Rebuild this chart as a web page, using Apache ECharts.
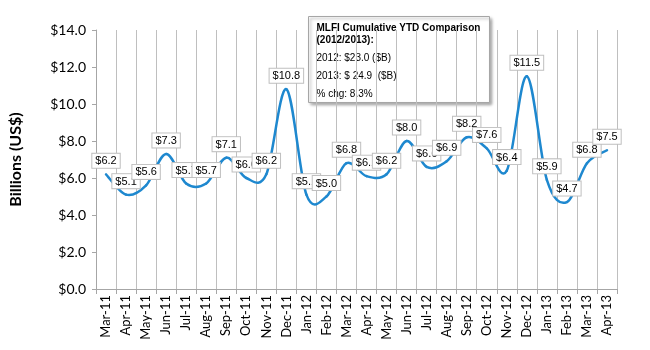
<!DOCTYPE html>
<html><head><meta charset="utf-8">
<script src="https://cdn.jsdelivr.net/npm/echarts@6/dist/echarts.min.js"></script>
<style>html,body{margin:0;padding:0;background:#fff}#c{width:650px;height:350px}</style>
</head><body><div id="c"></div>
<script>
const categories = ["Mar-11","Apr-11","May-11","Jun-11","Jul-11","Aug-11","Sep-11","Oct-11","Nov-11","Dec-11","Jan-12","Feb-12","Mar-12","Apr-12","May-12","Jun-12","Jul-12","Aug-12","Sep-12","Oct-12","Nov-12","Dec-12","Jan-13","Feb-13","Mar-13","Apr-13"];
const values = [6.2,5.1,5.6,7.3,5.7,5.7,7.1,6.0,6.2,10.8,5.1,5.0,6.8,6.1,6.2,8.0,6.6,6.9,8.2,7.6,6.4,11.5,5.9,4.7,6.8,7.5];
const yTicks = {min:0, max:14, interval:2};
const noteLines = ["MLFI Cumulative YTD Comparison","(2012/2013):","2012: $23.0 ($B)","2013: $ 24.9  ($B)","% chg: 8.3%"];

const chart = echarts.init(document.getElementById('c'), null, {renderer:'canvas'});
const axisFont = 'Lato, "Open Sans", sans-serif';
const lblFont = '"Liberation Sans", Arial, sans-serif';
const n = values.length;

function renderSegment(params, api) {
  const i = params.dataIndexInside;
  if (i >= n - 1) return null;
  const pt = k => api.coord([Math.max(0, Math.min(n - 1, k)), values[Math.max(0, Math.min(n - 1, k))]]);
  const p0 = pt(i - 1), p1 = pt(i), p2 = pt(i + 1), p3 = pt(i + 2);
  const t = 1 / 6;
  return {
    type: 'bezierCurve',
    shape: {
      x1: p1[0], y1: p1[1], x2: p2[0], y2: p2[1],
      cpx1: p1[0] + (p2[0] - p0[0]) * t, cpy1: p1[1] + (p2[1] - p0[1]) * t,
      cpx2: p2[0] - (p3[0] - p1[0]) * t, cpy2: p2[1] - (p3[1] - p1[1]) * t
    },
    style: { stroke: '#1E88CF', lineWidth: 2.5, fill: null, lineCap: 'round' }
  };
}

chart.setOption({
  animation:false,
  grid:{left:92,right:33,top:30,bottom:61},
  xAxis:{
    type:'category', data:categories, boundaryGap:true,
    axisLine:{lineStyle:{color:'#A6A6A6'}},
    axisTick:{show:true,alignWithLabel:false,length:5,lineStyle:{color:'#A6A6A6'}},
    splitLine:{show:true,lineStyle:{color:'#BFBFBF',width:1}},
    axisLabel:{rotate:90,interval:0,color:'#000',fontSize:13,fontFamily:axisFont,margin:6}
  },
  yAxis:{
    type:'value', min:yTicks.min, max:yTicks.max, interval:yTicks.interval,
    name:'Billions (US$)', nameLocation:'middle', nameGap:72,
    nameTextStyle:{fontSize:16,fontWeight:'bold',color:'#000',fontFamily:axisFont},
    axisLine:{show:true,lineStyle:{color:'#A6A6A6'}},
    axisTick:{show:true,length:4,lineStyle:{color:'#A6A6A6'}},
    splitLine:{show:false},
    axisLabel:{color:'#000',fontSize:14,fontFamily:axisFont,margin:10,
      formatter:v=>'$'+v.toFixed(1)}
  },
  series:[{
    type:'custom', data:values.map((v,i)=>[i,v]), renderItem:renderSegment,
    encode:{x:0,y:1}, z:2, silent:true
  },{
    type:'line', data:values, symbol:'circle', symbolSize:1, showSymbol:true,
    itemStyle:{color:'rgba(0,0,0,0)',borderWidth:0},
    lineStyle:{opacity:0,width:0}, z:3,
    labelLayout:{hideOverlap:false},
    label:{show:true,position:'top',distance:6,
      formatter:p=>'$'+p.value.toFixed(1),
      color:'#000',fontSize:11,fontFamily:lblFont,
      backgroundColor:'#fff',borderColor:'#BFBFBF',borderWidth:1,padding:[2,3,1,3]}
  }],
  graphic:[{
    type:'group', left:308, top:16, z:100,
    children:[
      {type:'rect',shape:{x:0,y:0,width:181,height:86},
        style:{fill:'#fff',stroke:'#A6A6A6',lineWidth:1,shadowBlur:3,shadowOffsetX:2,shadowOffsetY:2,shadowColor:'rgba(0,0,0,0.35)'}},
      {type:'text',x:8,y:7,style:{text:noteLines[0],font:'bold 10px '+lblFont,fill:'#000'}},
      {type:'text',x:8,y:19,style:{text:noteLines[1],font:'bold 10px '+lblFont,fill:'#000'}},
      {type:'text',x:8,y:37,style:{text:noteLines[2],font:'10px '+lblFont,fill:'#000'}},
      {type:'text',x:8,y:55,style:{text:noteLines[3],font:'10px '+lblFont,fill:'#000'}},
      {type:'text',x:8,y:73,style:{text:noteLines[4],font:'10px '+lblFont,fill:'#000'}}
    ]
  }]
});
</script></body></html>
